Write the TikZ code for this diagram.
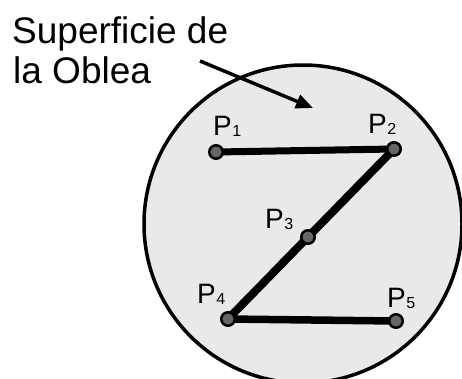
\documentclass[tikz,border=0pt]{standalone}
\usepackage{fontspec}
\setmainfont{Liberation Sans}
\usetikzlibrary{arrows.meta}
\definecolor{wafer}{HTML}{E9E9E9}
\definecolor{dotgray}{HTML}{666666}
\tikzset{
  pt/.style={circle,draw=black,line width=2.5pt,fill=dotgray,minimum size=13.5pt,inner sep=0pt},
  plabel/.style={anchor=base west,inner sep=0pt,font=\fontsize{28}{28}\selectfont},
  seg/.style={line width=#1,line cap=butt},
  title/.style={anchor=base west,inner sep=0pt,font=\fontsize{37}{40}\selectfont}
}
\newcommand{\psub}[1]{P\hspace{0.5pt}{\fontsize{16}{16}\selectfont\raisebox{-1pt}{#1}}}
\begin{document}
\begin{tikzpicture}[x=1pt,y=-1pt]
\useasboundingbox (0,0) rectangle (462,378);
\begin{scope}
\clip (0,0) rectangle (462,378);
\node[circle,draw=black,line width=3.5pt,fill=wafer,minimum size=318pt,inner sep=0pt] (wafer) at (303,224) {};
\end{scope}
\node[title] (t1) at (12,43) {Superficie de};
\node[title] (t2) at (13,83) {la Oblea};
\coordinate (as) at (200,61);
\coordinate (ae) at (313,108);
\draw[line width=3.5pt,-{Triangle[length=17pt,width=14pt]}] (as) -- (ae);
\coordinate (c1) at (216,152);
\coordinate (c2) at (394,149);
\coordinate (c3) at (308,237);
\coordinate (c4) at (228,319);
\coordinate (c5) at (396,321);
\draw[seg=7pt] (c1) -- (c2);
\draw[seg=8pt] (c2) -- (c3);
\draw[seg=8pt] (c3) -- (c4);
\draw[seg=7.5pt] (c4) -- (c5);
\node[pt] (p1) at (c1) {};
\node[pt] (p2) at (c2) {};
\node[pt] (p3) at (c3) {};
\node[pt] (p4) at (c4) {};
\node[pt] (p5) at (c5) {};
\node[plabel] (l1) at (213,135) {\psub{1}};
\node[plabel] (l2) at (368,133) {\psub{2}};
\node[plabel] (l3) at (265,228) {\psub{3}};
\node[plabel] (l4) at (197,303) {\psub{4}};
\node[plabel] (l5) at (387,307) {\psub{5}};
\end{tikzpicture}
\end{document}
